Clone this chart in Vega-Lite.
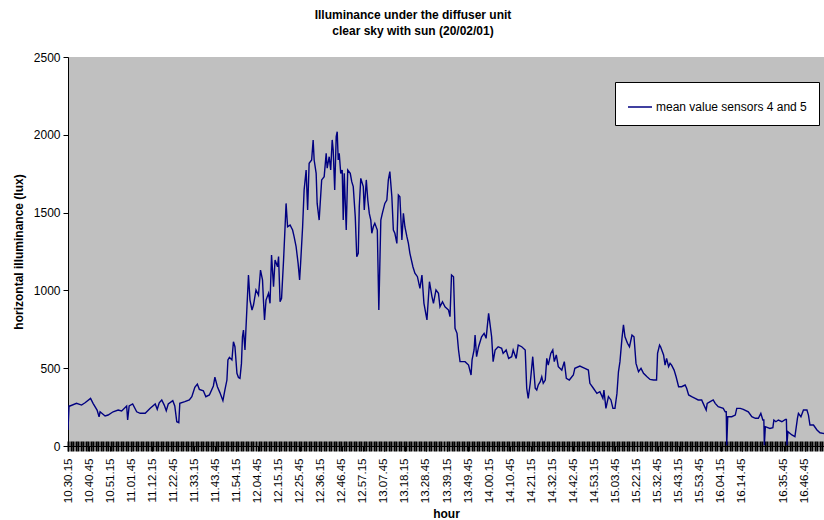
{
  "$schema": "https://vega.github.io/schema/vega-lite/v6.json",
  "autosize": "none",
  "padding": {"left": 68, "top": 57, "right": 0, "bottom": 74},
  "width": 756,
  "height": 389,
  "background": "white",
  "config": {
    "font": "Liberation Sans",
    "view": {"fill": "#c0c0c0", "stroke": null},
    "axis": {"labelColor": "black", "titleColor": "black", "domainColor": "black", "tickColor": "black", "grid": false}
  },
  "title": {
    "text": ["Illuminance under the diffuser unit", "clear sky with sun (20/02/01)"],
    "fontSize": 12,
    "fontWeight": "bold",
    "lineHeight": 16,
    "color": "black",
    "anchor": "middle",
    "dx": -33,
    "offset": 13
  },
  "data": {
    "values": [
      {"n":0,"lux":103},{"n":2,"lux":257},{"n":4,"lux":257},{"n":17,"lux":274},{"n":27,"lux":263},{"n":34,"lux":278},{"n":45,"lux":306},{"n":50,"lux":274},{"n":58,"lux":231},{"n":62,"lux":188},{"n":64,"lux":220},{"n":74,"lux":193},{"n":80,"lux":199},{"n":90,"lux":220},{"n":100,"lux":231},{"n":107,"lux":225},{"n":117,"lux":257},{"n":119,"lux":167},{"n":122,"lux":257},{"n":129,"lux":270},{"n":137,"lux":220},{"n":144,"lux":210},{"n":154,"lux":210},{"n":164,"lux":242},{"n":174,"lux":270},{"n":178,"lux":236},{"n":182,"lux":278},{"n":187,"lux":296},{"n":192,"lux":263},{"n":196,"lux":227},{"n":200,"lux":270},{"n":209,"lux":291},{"n":213,"lux":257},{"n":217,"lux":156},{"n":221,"lux":150},{"n":223,"lux":274},{"n":233,"lux":285},{"n":242,"lux":296},{"n":247,"lux":317},{"n":253,"lux":377},{"n":258,"lux":398},{"n":262,"lux":364},{"n":270,"lux":355},{"n":275,"lux":317},{"n":282,"lux":328},{"n":290,"lux":386},{"n":293,"lux":442},{"n":298,"lux":381},{"n":303,"lux":343},{"n":309,"lux":291},{"n":313,"lux":360},{"n":317,"lux":424},{"n":319,"lux":553},{"n":322,"lux":570},{"n":327,"lux":553},{"n":330,"lux":670},{"n":333,"lux":638},{"n":337,"lux":467},{"n":340,"lux":440},{"n":343,"lux":435},{"n":346,"lux":531},{"n":348,"lux":702},{"n":350,"lux":745},{"n":353,"lux":617},{"n":357,"lux":895},{"n":360,"lux":1099},{"n":363,"lux":938},{"n":367,"lux":874},{"n":370,"lux":906},{"n":375,"lux":1003},{"n":380,"lux":970},{"n":384,"lux":1131},{"n":388,"lux":1067},{"n":390,"lux":927},{"n":392,"lux":810},{"n":395,"lux":938},{"n":400,"lux":981},{"n":403,"lux":917},{"n":406,"lux":1228},{"n":410,"lux":1024},{"n":413,"lux":1195},{"n":418,"lux":1152},{"n":420,"lux":1217},{"n":423,"lux":927},{"n":426,"lux":949},{"n":430,"lux":1195},{"n":433,"lux":1409},{"n":435,"lux":1559},{"n":438,"lux":1409},{"n":443,"lux":1420},{"n":448,"lux":1388},{"n":451,"lux":1345},{"n":455,"lux":1281},{"n":459,"lux":1174},{"n":462,"lux":1067},{"n":464,"lux":1174},{"n":468,"lux":1409},{"n":471,"lux":1645},{"n":475,"lux":1774},{"n":478,"lux":1517},{"n":481,"lux":1817},{"n":486,"lux":1838},{"n":489,"lux":1967},{"n":491,"lux":1838},{"n":495,"lux":1752},{"n":497,"lux":1559},{"n":501,"lux":1452},{"n":506,"lux":1710},{"n":511,"lux":1731},{"n":515,"lux":1881},{"n":517,"lux":1785},{"n":521,"lux":1859},{"n":524,"lux":1774},{"n":527,"lux":1967},{"n":529,"lux":1902},{"n":532,"lux":1645},{"n":535,"lux":1988},{"n":537,"lux":2020},{"n":539,"lux":1838},{"n":541,"lux":1881},{"n":544,"lux":1752},{"n":547,"lux":1774},{"n":549,"lux":1452},{"n":551,"lux":1752},{"n":555,"lux":1388},{"n":558,"lux":1774},{"n":563,"lux":1752},{"n":566,"lux":1699},{"n":569,"lux":1667},{"n":573,"lux":1474},{"n":576,"lux":1217},{"n":579,"lux":1238},{"n":581,"lux":1538},{"n":584,"lux":1720},{"n":589,"lux":1667},{"n":591,"lux":1517},{"n":595,"lux":1710},{"n":598,"lux":1581},{"n":601,"lux":1495},{"n":604,"lux":1452},{"n":606,"lux":1367},{"n":609,"lux":1409},{"n":612,"lux":1431},{"n":617,"lux":1388},{"n":620,"lux":874},{"n":624,"lux":1452},{"n":627,"lux":1495},{"n":632,"lux":1559},{"n":636,"lux":1581},{"n":639,"lux":1710},{"n":642,"lux":1763},{"n":646,"lux":1602},{"n":649,"lux":1388},{"n":652,"lux":1367},{"n":656,"lux":1302},{"n":659,"lux":1613},{"n":662,"lux":1602},{"n":666,"lux":1324},{"n":669,"lux":1495},{"n":672,"lux":1409},{"n":676,"lux":1345},{"n":679,"lux":1302},{"n":682,"lux":1238},{"n":688,"lux":1152},{"n":692,"lux":1110},{"n":697,"lux":1088},{"n":702,"lux":1013},{"n":706,"lux":1099},{"n":710,"lux":917},{"n":716,"lux":810},{"n":721,"lux":1056},{"n":726,"lux":960},{"n":729,"lux":917},{"n":734,"lux":1003},{"n":739,"lux":981},{"n":742,"lux":895},{"n":747,"lux":927},{"n":752,"lux":895},{"n":759,"lux":874},{"n":762,"lux":831},{"n":765,"lux":1099},{"n":769,"lux":1088},{"n":772,"lux":756},{"n":776,"lux":724},{"n":779,"lux":617},{"n":782,"lux":542},{"n":792,"lux":542},{"n":799,"lux":520},{"n":804,"lux":456},{"n":806,"lux":553},{"n":810,"lux":617},{"n":812,"lux":713},{"n":815,"lux":574},{"n":819,"lux":638},{"n":825,"lux":702},{"n":830,"lux":724},{"n":834,"lux":692},{"n":839,"lux":852},{"n":842,"lux":778},{"n":845,"lux":702},{"n":848,"lux":542},{"n":852,"lux":617},{"n":858,"lux":638},{"n":865,"lux":628},{"n":868,"lux":595},{"n":874,"lux":617},{"n":879,"lux":563},{"n":885,"lux":574},{"n":888,"lux":617},{"n":894,"lux":563},{"n":898,"lux":649},{"n":905,"lux":638},{"n":912,"lux":617},{"n":915,"lux":371},{"n":918,"lux":306},{"n":922,"lux":403},{"n":927,"lux":574},{"n":932,"lux":371},{"n":935,"lux":360},{"n":938,"lux":392},{"n":942,"lux":413},{"n":945,"lux":445},{"n":948,"lux":403},{"n":952,"lux":424},{"n":955,"lux":563},{"n":958,"lux":520},{"n":963,"lux":595},{"n":967,"lux":617},{"n":970,"lux":542},{"n":974,"lux":585},{"n":978,"lux":510},{"n":985,"lux":488},{"n":990,"lux":542},{"n":994,"lux":435},{"n":1000,"lux":424},{"n":1008,"lux":456},{"n":1011,"lux":499},{"n":1021,"lux":514},{"n":1031,"lux":499},{"n":1038,"lux":488},{"n":1041,"lux":403},{"n":1048,"lux":371},{"n":1055,"lux":338},{"n":1061,"lux":349},{"n":1067,"lux":306},{"n":1069,"lux":360},{"n":1073,"lux":242},{"n":1078,"lux":317},{"n":1083,"lux":296},{"n":1087,"lux":242},{"n":1091,"lux":242},{"n":1095,"lux":338},{"n":1098,"lux":477},{"n":1101,"lux":542},{"n":1105,"lux":692},{"n":1108,"lux":778},{"n":1111,"lux":702},{"n":1116,"lux":660},{"n":1120,"lux":638},{"n":1125,"lux":713},{"n":1129,"lux":702},{"n":1133,"lux":531},{"n":1138,"lux":477},{"n":1143,"lux":499},{"n":1148,"lux":467},{"n":1155,"lux":445},{"n":1161,"lux":428},{"n":1168,"lux":424},{"n":1174,"lux":424},{"n":1176,"lux":595},{"n":1180,"lux":649},{"n":1182,"lux":638},{"n":1188,"lux":585},{"n":1191,"lux":520},{"n":1194,"lux":563},{"n":1198,"lux":510},{"n":1201,"lux":531},{"n":1204,"lux":520},{"n":1209,"lux":488},{"n":1213,"lux":445},{"n":1218,"lux":381},{"n":1224,"lux":381},{"n":1231,"lux":392},{"n":1234,"lux":371},{"n":1238,"lux":328},{"n":1244,"lux":317},{"n":1251,"lux":306},{"n":1257,"lux":296},{"n":1264,"lux":296},{"n":1267,"lux":274},{"n":1273,"lux":231},{"n":1275,"lux":274},{"n":1281,"lux":285},{"n":1287,"lux":296},{"n":1291,"lux":274},{"n":1297,"lux":253},{"n":1307,"lux":242},{"n":1311,"lux":220},{"n":1313,"lux":220},{"n":1314,"lux":5},{"n":1316,"lux":188},{"n":1324,"lux":188},{"n":1331,"lux":199},{"n":1334,"lux":242},{"n":1341,"lux":242},{"n":1347,"lux":236},{"n":1357,"lux":220},{"n":1364,"lux":188},{"n":1371,"lux":178},{"n":1377,"lux":178},{"n":1382,"lux":210},{"n":1386,"lux":167},{"n":1388,"lux":167},{"n":1389,"lux":5},{"n":1391,"lux":124},{"n":1400,"lux":113},{"n":1406,"lux":118},{"n":1408,"lux":167},{"n":1412,"lux":156},{"n":1417,"lux":167},{"n":1424,"lux":156},{"n":1431,"lux":171},{"n":1433,"lux":171},{"n":1434,"lux":5},{"n":1436,"lux":92},{"n":1444,"lux":71},{"n":1450,"lux":60},{"n":1455,"lux":178},{"n":1457,"lux":210},{"n":1462,"lux":188},{"n":1467,"lux":231},{"n":1474,"lux":231},{"n":1477,"lux":199},{"n":1480,"lux":135},{"n":1487,"lux":135},{"n":1494,"lux":103},{"n":1500,"lux":85},{"n":1506,"lux":81},{"n":1512,"lux":78}
    ]
  },
  "resolve": {"axis": {"x": "independent"}},
  "layer": [
    {
      "mark": {"type": "line", "color": "#000080", "strokeWidth": 1.4, "clip": true, "interpolate": "linear"},
      "encoding": {
        "x": {
          "field": "n",
          "type": "quantitative",
          "scale": {"domain": [0, 1508], "nice": false, "zero": false},
          "axis": {
            "orient": "bottom",
            "title": "hour",
            "titleFontSize": 12,
            "titleFontWeight": "bold",
            "titlePadding": 6,
            "values": [0, 42, 84, 126, 168, 210, 252, 294, 336, 378, 420, 462, 504, 546, 588, 630, 672, 714, 756, 798, 840, 882, 924, 966, 1008, 1050, 1092, 1134, 1176, 1218, 1260, 1302, 1344, 1428, 1470],
            "labelExpr": "['10.30.15','10.40.45','10.51.15','11.01.45','11.12.15','11.22.45','11.33.15','11.43.45','11.54.15','12.04.45','12.15.15','12.25.45','12.36.15','12.46.45','12.57.15','13.07.45','13.18.15','13.28.45','13.39.15','13.49.45','14.00.15','14.10.45','14.21.15','14.32.15','14.42.45','14.53.15','15.03.45','15.22.15','15.32.45','15.43.15','15.53.45','16.04.15','16.14.45','','16.35.45','16.46.45','16.57.15'][round(datum.value / 42)]",
            "labelAngle": 270,
            "labelFontSize": 11.5,
            "labelPadding": 7,
            "labelFlush": false,
            "labelOverlap": false,
            "tickSize": 5
          }
        },
        "y": {
          "field": "lux",
          "type": "quantitative",
          "scale": {"domain": [0, 2500], "nice": false},
          "axis": {
            "title": "horizontal illuminance (lux)",
            "titleFontSize": 12,
            "titleFontWeight": "bold",
            "titlePadding": 8,
            "values": [0, 500, 1000, 1500, 2000, 2500],
            "format": "d",
            "labelFontSize": 12,
            "labelPadding": 3,
            "labelFlush": false,
            "tickSize": 5
          }
        },
        "color": {
          "datum": "mean value sensors 4 and 5",
          "scale": {"range": ["#000080"]},
          "legend": {
            "title": null,
            "orient": "none",
            "legendX": 547,
            "legendY": 25,
            "fillColor": "white",
            "strokeColor": "black",
            "padding": 12,
            "symbolType": "stroke",
            "symbolSize": 576,
            "symbolStrokeWidth": 1.5,
            "labelFontSize": 12,
            "labelColor": "black",
            "labelOffset": 3
          }
        }
      }
    },
    {
      "mark": {"type": "rule", "opacity": 0},
      "encoding": {
        "x": {
          "field": "n",
          "type": "quantitative",
          "scale": {"domain": [0, 1508], "nice": false, "zero": false},
          "axis": {
            "orient": "bottom",
            "offset": -5,
            "title": null,
            "domain": false,
            "labels": false,
            "tickCount": 400,
            "tickSize": 10,
            "tickWidth": 2
          }
        }
      }
    }
  ]
}
